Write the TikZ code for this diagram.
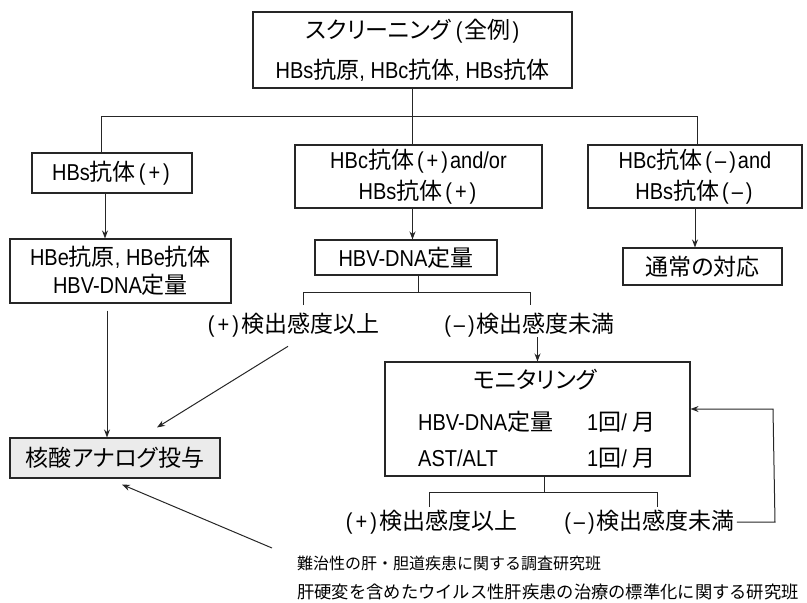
\documentclass[tikz,border=0pt]{standalone}
\usepackage{fontspec}
\setmainfont{Noto Sans CJK JP}[RawFeature=+palt]
\newfontfamily\plainjp{Noto Sans CJK JP}
\newfontfamily\latf{Liberation Sans}[FakeStretch=0.87]
\newcommand\LL[1]{{\latf #1}}
\newcommand\PL{\kern3pt\LL{(\kern3pt+\kern3pt)}\kern2pt}
\newcommand\MI{\kern3pt\LL{(\kern3pt–\kern3pt)}\kern2pt}
\usetikzlibrary{arrows.meta}
\begin{document}
\begin{tikzpicture}[x=1pt,y=-1pt,
  txt/.style={inner sep=0pt, font=\fontsize{23}{28}\selectfont},
  box/.style={txt, draw=black!85, line width=1.1pt, align=center},
  conn/.style={draw=black!85, line width=1pt},
  arr/.style={conn, -{Stealth[length=8pt,width=6pt]}},
  foot/.style={inner sep=0pt, anchor=west},
]
\useasboundingbox (0,0) rectangle (807,603);

% boxes
\node[box, minimum width=319pt, minimum height=76pt, font=\fontsize{23}{40}\selectfont] (top) at (412.5,50)
  {スクリーニング\kern5pt\LL{(}\kern2pt全例\kern2pt\LL{)}\\\LL{HBs}抗原\LL{, HBc}抗体\LL{, HBs}抗体};
\node[box, minimum width=160pt, minimum height=40pt] (hbs) at (112,173) {\LL{HBs}抗体\PL};
\node[box, minimum width=221pt, minimum height=64pt, font=\fontsize{23}{28}\selectfont] (hbe) at (120.5,271)
  {\LL{HBe}抗原\LL{, HBe}抗体\\\LL{HBV-DNA}定量};
\node[box, minimum width=247pt, minimum height=63pt, font=\fontsize{23}{31}\selectfont] (hbc) at (418.5,176.5)
  {\LL{HBc}抗体\PL\LL{and/or}\\\LL{HBs}抗体\PL};
\node[box, minimum width=182pt, minimum height=35pt] (hbvdna) at (406,257.5) {\LL{HBV-DNA}定量};
\node[box, minimum width=214pt, minimum height=63pt, font=\fontsize{23}{31}\selectfont] (neg) at (695,176.5)
  {\LL{HBc}抗体\MI\LL{and}\\\LL{HBs}抗体\MI};
\node[box, minimum width=159pt, minimum height=37pt] (usual) at (702.5,266.5) {通常の対応};
\node[box, minimum width=305pt, minimum height=114pt] (mon) at (537.5,419) {};
\node[box, fill=black!8, minimum width=210pt, minimum height=40pt] (nuc) at (115,458) {核酸アナログ投与};

% monitoring contents
\node[txt] (montitle) at (535,380) {モニタリング};
\node[txt, anchor=west] (m1a) at (418,422) {\LL{HBV-DNA}定量};
\node[txt, anchor=west] (m1b) at (587,422) {\LL{1}回\LL{/ }月};
\node[txt, anchor=west] (m2a) at (418,458) {\LL{AST/ALT}};
\node[txt, anchor=west] (m2b) at (587,458) {\LL{1}回\LL{/ }月};

% labels
\node[txt] (plus1) at (292,325) {\PL 検出感度以上};
\node[txt] (minus1) at (528,325) {\MI 検出感度未満};
\node[txt] (plus2) at (430,522) {\PL 検出感度以上};
\node[txt] (minus2) at (648,522) {\MI 検出感度未満};

% footer
\node[foot, font=\plainjp\fontsize{16}{20}\selectfont] (f1) at (297,563) {難治性の肝・胆道疾患に関する調査研究班};
\node[foot, font=\plainjp\fontsize{17.3}{20}\selectfont] (f2) at (297,592) {肝硬変を含めたウイルス性肝疾患の治療の標準化に関する研究班};

% tree from top
\coordinate (j1) at (412.5,116);
\coordinate (jl) at (101,116);
\coordinate (jr) at (697,116);
\draw[conn] (top.south) -- (j1) -- (j1 |- hbc.north);
\draw[conn] (jl |- hbs.north) -- (jl) -- (jr) -- (jr |- neg.north);

% arrows down
\coordinate (a1) at ([xshift=-7pt]hbs.south);
\draw[arr] (a1) -- (a1 |- hbe.north);
\draw[arr] (hbc.south -| j1) -- (hbvdna.north -| j1);
\draw[arr] (neg.south) -- (neg.south |- usual.north);

% HBV-DNA split
\coordinate (j2) at (418,292);
\coordinate (j2l) at (303,292);
\coordinate (j2r) at (530,292);
\draw[conn] (hbvdna.south -| j2) -- (j2);
\draw[conn] (j2l) ++(0,13) -- (j2l) -- (j2r) -- ++(0,13);
\draw[arr] (minus1.south -| mon.north) -- (mon.north);
\draw[arr] ([xshift=-4pt,yshift=-9pt]plus1.south) -- ([xshift=42pt,yshift=10pt]nuc.north);

% HBe to nucleic
\coordinate (a3) at ([xshift=-13.5pt,yshift=-7pt]hbe.south);
\draw[arr] (a3) -- (a3 |- nuc.north);

% monitoring split
\coordinate (j3) at (544,492);
\coordinate (j3l) at (429,492);
\coordinate (j3r) at (657,492);
\draw[conn] (mon.south -| j3) -- (j3);
\draw[conn] (j3l) ++(0,15) -- (j3l) -- (j3r) -- ++(0,15);

% loop back
\coordinate (lp) at (773,409);
\draw[arr] ([xshift=2pt]minus2.east) -- ([xshift=2pt]minus2.east -| lp) -- (lp) -- (lp -| mon.east);

% plus2 to nucleic
\coordinate (s2) at (272,548);
\draw[arr] (s2) -- ([xshift=7pt,yshift=-6pt]nuc.south);
\end{tikzpicture}
\end{document}
